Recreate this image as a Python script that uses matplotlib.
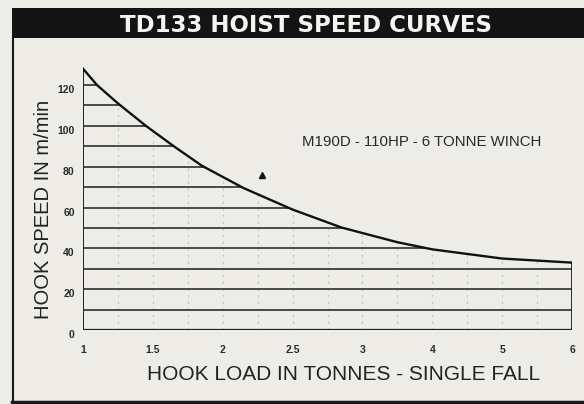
import numpy as np
import matplotlib
matplotlib.use("Agg")
import matplotlib.pyplot as plt
from matplotlib.patches import Rectangle
from matplotlib.lines import Line2D
from matplotlib.transforms import ScaledTranslation

# ---- data ----
title = "TD133 HOIST SPEED CURVES"
x_label = "HOOK LOAD IN TONNES - SINGLE FALL"
y_label = "HOOK SPEED IN m/min"
note = "M190D - 110HP - 6 TONNE WINCH"

tick_loads = [1, 1.5, 2, 2.5, 3, 4, 5, 6]
tick_labels = ["1", "1.5", "2", "2.5", "3", "4", "5", "6"]
y_ticks = [0, 20, 40, 60, 80, 100, 120]
hatch_levels = [10, 20, 30, 40, 50, 60, 70, 80, 90, 100, 110, 120]
dotted_loads = [1.25, 1.5, 1.75, 2, 2.25, 2.5, 2.75, 3, 3.5, 4, 4.5, 5, 5.5]

curve_loads = [1.0, 1.1, 1.25, 1.45, 1.65, 1.85, 2.0, 2.15, 2.5, 2.85, 3.0, 3.5, 4.0, 5.0, 5.5, 6.0]
curve_speeds = [128, 120, 111, 100, 90, 80.5, 75, 69.5, 59, 50.2, 47.5, 43, 39.5, 35, 34, 33]

marker_load = [2.28]
marker_speed = [76]

# ---- styling ----
bg = "#edece6"
ink = "#1e1e1e"
grid_ink = "#3c3c3c"

W, H = 584, 404
fig = plt.figure(figsize=(W / 100, H / 100), dpi=100, facecolor=bg)

positions = np.arange(len(tick_loads), dtype=float)


def fwd(x):
    return np.interp(x, tick_loads, positions)


def inv(p):
    return np.interp(p, positions, tick_loads)


ax = fig.add_axes([83 / W, (H - 330) / H, (572 - 83) / W, (330 - 64.6) / H])
ax.set_facecolor("none")
ax.set_xscale("function", functions=(fwd, inv))
ax.set_xlim(1, 6)
ax.set_ylim(0, 130)
for s in ax.spines.values():
    s.set_visible(False)

cl = np.array(curve_loads)
cs = np.array(curve_speeds)
cp = fwd(cl)

# faint dotted verticals under the curve
for xl in dotted_loads:
    top = np.interp(fwd(xl), cp, cs)
    ax.plot([xl, xl], [0, top], color="#c2c2bc", lw=0.8, ls=(0, (2, 4)), zorder=1)

# horizontal hatch lines from the left axis to the curve
for lvl in hatch_levels:
    if lvl <= cs[-1]:
        xe = 6.0
    else:
        xe = inv(np.interp(lvl, cs[::-1], cp[::-1]))
    ax.plot([1, xe], [lvl, lvl], color=grid_ink, lw=1.3, solid_capstyle="butt", zorder=2)

# axes frame lines
ax.plot([1, 6], [0, 0], color=ink, lw=1.6, solid_capstyle="butt", zorder=3)
ax.plot([1, 1], [0, cs[0]], color=ink, lw=1.4, zorder=3)
ax.plot([6, 6], [0, cs[-1]], color=ink, lw=1.3, zorder=3)

# curve
ax.plot(cl, cs, color="#111111", lw=1.7, zorder=4, solid_joinstyle="round")
ax.plot(marker_load, marker_speed, marker="^", ms=5, color="#111111", ls="none", zorder=4)

ax.text(inv(4.85), 92, note, fontsize=10.8, family="Liberation Sans",
        color="#2a2a2a", ha="center", va="center")

ax.set_xticks(tick_loads, labels=tick_labels)
ax.set_yticks(y_ticks)
ax.minorticks_off()
ax.tick_params(axis="both", length=0, labelsize=7.5, labelcolor="#2a2a2a")
ax.tick_params(axis="x", pad=11)
ax.tick_params(axis="y", pad=6)
for lab in ax.get_xticklabels() + ax.get_yticklabels():
    lab.set_fontweight("bold")
    lab.set_family("Liberation Sans")
for lab in ax.get_yticklabels():
    lab.set_transform(lab.get_transform() + ScaledTranslation(0, -0.04, fig.dpi_scale_trans))

# axis titles
fig.text(0.588, (H - 374) / H, x_label, fontsize=15, family="Liberation Sans",
         color="#222222", ha="center", va="center")
fig.text(43.5 / W, (H - 209.5) / H, y_label, fontsize=14.5, family="Liberation Sans",
         color="#222222", ha="center", va="center", rotation=90)

# title bar
fig.patches.append(Rectangle((12 / W, (H - 38) / H), 1, 30 / H, transform=fig.transFigure,
                             facecolor="#141414", edgecolor="none", zorder=0))
fig.text(305.5 / W, (H - 25) / H, title, fontsize=16.5, family="DejaVu Sans", weight="bold",
         color="#f4f4f0", ha="center", va="center")

# outer frame lines
fig.add_artist(Line2D([13 / W, 13 / W], [2 / H, (H - 38) / H], transform=fig.transFigure,
                      color="#1a1a1a", lw=1.5))
fig.add_artist(Line2D([12 / W, 1], [2 / H, 2 / H], transform=fig.transFigure,
                      color="#1a1a1a", lw=2.5))

fig.savefig("out.png", dpi=100, facecolor=bg)
